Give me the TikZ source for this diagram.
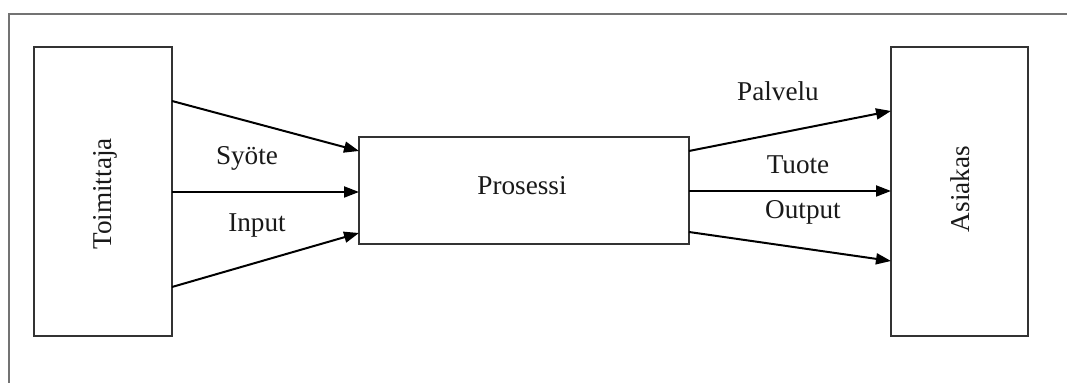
\documentclass[tikz,border=0pt]{standalone}
\usepackage{fontspec}
\setmainfont{Liberation Serif}
\usetikzlibrary{arrows.meta}
\begin{document}
\begin{tikzpicture}[x=0.5pt,y=-0.5pt,
  frameline/.style={draw=black!55,line width=0.7pt},
  block/.style={draw=black!80,line width=0.55pt,fill=white},
  flow/.style={draw=black,line width=1pt,-{Triangle[length=7.5pt,width=5.5pt]}},
  lbl/.style={font=\fontsize{13.6}{16}\selectfont,text=black!90,inner sep=0pt}]
  \useasboundingbox (0,0) rectangle (1067,383);
  % outer frame: top and left edges only
  \draw[frameline] (9,383) -- (9,14) -- (1067,14);
  % blocks
  \draw[block] (34,47) rectangle (172,336);
  \draw[block] (359,137) rectangle (689,244);
  \draw[block] (891,47) rectangle (1028,336);
  \node[lbl,rotate=90] (supplier) at (105,194) {Toimittaja};
  \node[lbl,rotate=90] (customer) at (960,189) {Asiakas};
  \node[lbl] (process) at (522,186) {Prosessi};
  % connector end points on the block sides
  \coordinate (s1) at (172,101);
  \coordinate (s2) at (172,192);
  \coordinate (s3) at (172,287);
  \coordinate (p1) at (359,151);
  \coordinate (p2) at (359,192);
  \coordinate (p3) at (359,233);
  \coordinate (q1) at (689,151);
  \coordinate (q2) at (689,191);
  \coordinate (q3) at (689,232);
  \coordinate (c1) at (891,111);
  \coordinate (c2) at (891,191);
  \coordinate (c3) at (891,261);
  \draw[flow] (s1) -- (p1);
  \draw[flow] (s2) -- (p2);
  \draw[flow] (s3) -- (p3);
  \draw[flow] (q1) -- (c1);
  \draw[flow] (q2) -- (c2);
  \draw[flow] (q3) -- (c3);
  % flow labels
  \node[lbl] (syote) at (247,158) {Syöte};
  \node[lbl] (input) at (257,225) {Input};
  \node[lbl] (palvelu) at (778,91) {Palvelu};
  \node[lbl] (tuote) at (798,165) {Tuote};
  \node[lbl] (output) at (803,212) {Output};
\end{tikzpicture}
\end{document}
